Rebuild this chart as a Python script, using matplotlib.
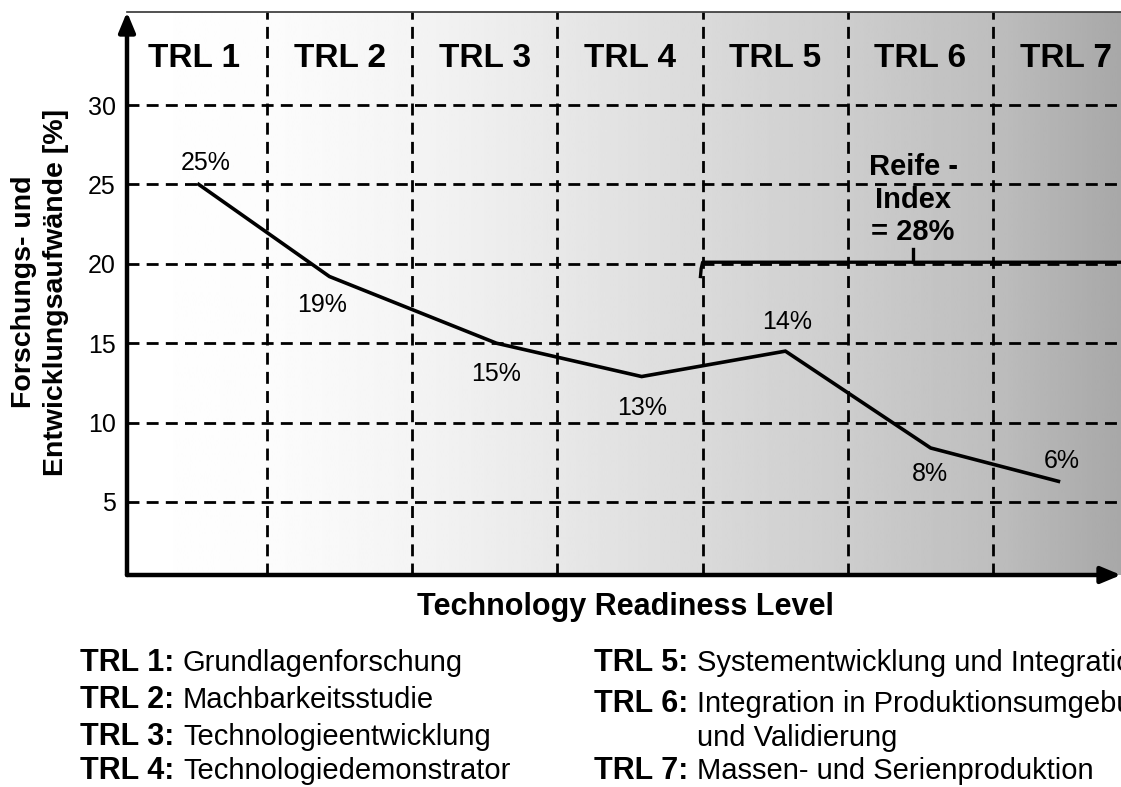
import matplotlib.pyplot as plt
import numpy as np

plt.rcParams['font.family'] = ['Liberation Sans', 'DejaVu Sans']

# values
trl_labels = ['TRL 1', 'TRL 2', 'TRL 3', 'TRL 4', 'TRL 5', 'TRL 6', 'TRL 7']
trl_pos = [0.53, 1.43, 2.58, 3.58, 4.57, 5.57, 6.45]
aufwand = [25.0, 19.2, 15.0, 12.9, 14.5, 8.4, 6.3]
aufwand_text = ['25%', '19%', '15%', '13%', '14%', '8%', '6%']
yticks = [5, 10, 15, 20, 25, 30]
trl_bounds = [1, 2, 3, 4, 5, 6]
reife_start = 4.0
reife_level = 20.1
reife_text = 'Reife -\nIndex\n= 28%'
descriptions = [
    ('TRL 1:', 'Grundlagenforschung'),
    ('TRL 2:', 'Machbarkeitsstudie'),
    ('TRL 3:', 'Technologieentwicklung'),
    ('TRL 4:', 'Technologiedemonstrator'),
    ('TRL 5:', 'Systementwicklung und Integration'),
    ('TRL 6:', 'Integration in Produktionsumgebung'),
    ('', 'und Validierung'),
    ('TRL 7:', 'Massen- und Serienproduktion'),
]

W, H = 1121, 787
fig = plt.figure(figsize=(W / 100, H / 100), dpi=100)
ax = fig.add_axes([127 / W, 1 - 575 / H, 1 - 127 / W, (575 - 12) / H])

xlim = (0.036, 6.881)
ylim = (0.40, 35.86)
ax.set_xlim(*xlim)
ax.set_ylim(*ylim)

# grey gradient background
px = np.array([127, 267, 413, 558, 703, 848, 993, 1121])
gv = np.array([255, 252, 244, 232, 218, 205, 190, 168]) / 255.
xs = np.linspace(127, 1121, 400)
grad = np.interp(xs, px, gv).reshape(1, -1)
ax.imshow(grad, cmap='gray', vmin=0, vmax=1, aspect='auto',
          extent=[xlim[0], xlim[1], ylim[0], ylim[1]], zorder=0,
          interpolation='bilinear')

ax.set_xticks(trl_bounds)
ax.set_xticklabels([])
ax.set_yticks(yticks)
ax.tick_params(axis='both', length=0, labelsize=18, pad=8)
ax.grid(True, color='k', lw=2, ls=(0, (4.3, 2.6)))

for s in ['left', 'bottom', 'right']:
    ax.spines[s].set_visible(False)
ax.spines['top'].set_linewidth(1.2)
ax.spines['top'].set_color('#333333')

arrow = dict(arrowstyle='-|>,head_length=0.6,head_width=0.25', lw=3.2,
             color='k', shrinkA=0, shrinkB=0, mutation_scale=20)
ax.annotate('', xy=(0, 1.0), xytext=(0, 0), xycoords='axes fraction', arrowprops=arrow)
ax.annotate('', xy=(1.0, 0), xytext=(0, 0), xycoords='axes fraction', arrowprops=arrow)

# main curve
ax.plot(trl_pos, aufwand, color='k', lw=2.6, zorder=3, solid_joinstyle='miter')
offsets = [(7, 21), (-7, -28), (0, -31), (0, -31), (2, 29), (-1, -26), (3, 20)]
for x, y, t, off in zip(trl_pos, aufwand, aufwand_text, offsets):
    ax.annotate(t, (x, y), xytext=off, textcoords='offset pixels',
                ha='center', va='center', fontsize=18)

# TRL column headers
for i, lab in enumerate(trl_labels):
    ax.text(i + 0.5, 32.96, lab, ha='center', va='center',
            fontsize=24, fontweight='bold')

# Reife-Index bracket
ax.plot([3.985, 3.99, reife_start, xlim[1]],
        [19.2, 19.7, reife_level, reife_level], color='k', lw=2.4, zorder=3,
        clip_on=False)
ax.plot([5.449, 5.449], [reife_level, 20.95], color='k', lw=2.4, zorder=3)
ax.text(5.449, 24.03, reife_text, ha='center', va='center', fontsize=21,
        fontweight='bold', linespacing=1.2)

# axis labels
fig.text(40 / W, 1 - 292 / H, 'Forschungs- und\nEntwicklungsaufwände [%]',
         rotation=90, ha='center', va='center', fontsize=20.5,
         fontweight='bold', linespacing=1.3, multialignment='center')
fig.text(625 / W, 1 - 607 / H, 'Technology Readiness Level', ha='center',
         va='center', fontsize=22, fontweight='bold')

# legend of TRL descriptions (label x, description x, baseline y)
rows = [(80, 183, 671), (80, 183, 708), (80, 183, 745), (80, 183, 779),
        (594, 697, 671), (594, 697, 712), (594, 697, 746), (594, 697, 779)]
for (lab, desc), (x, xd, y) in zip(descriptions, rows):
    fig.text(x / W, 1 - y / H, lab, ha='left', va='baseline',
             fontsize=22, fontweight='bold')
    fig.text(xd / W, 1 - y / H, desc, ha='left', va='baseline', fontsize=21)

fig.savefig('out.png', dpi=100)
